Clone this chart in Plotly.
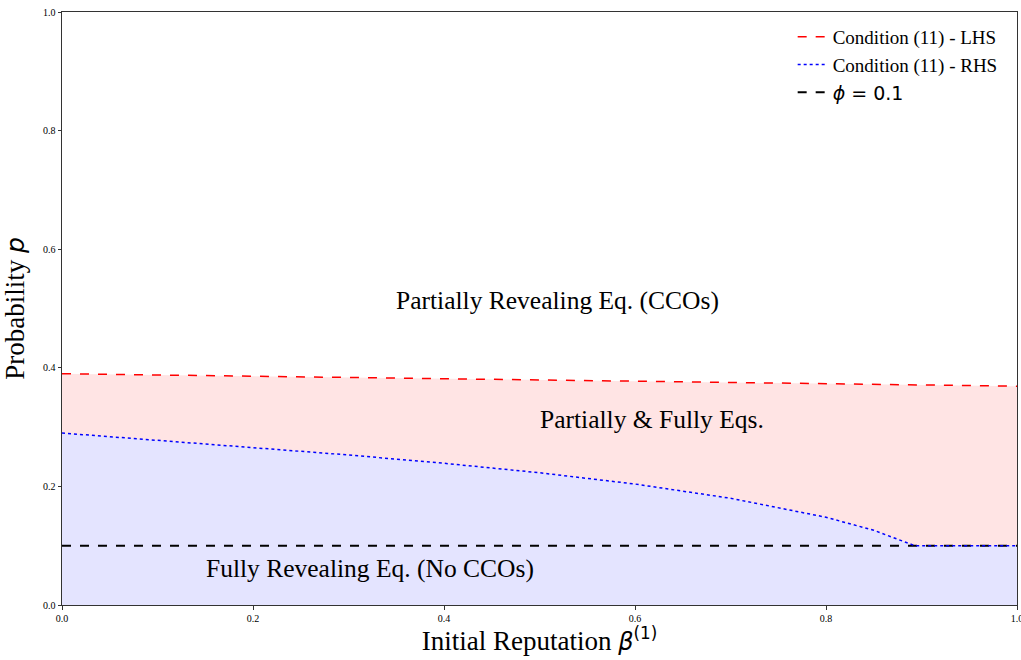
import plotly.graph_objects as go

# Initial reputation grid and the two sides of condition (11)
beta = [0.0, 0.1, 0.2, 0.3, 0.4, 0.5, 0.6, 0.7, 0.8, 0.85, 0.893, 0.95, 1.0]
lhs = [0.390, 0.388, 0.386, 0.384, 0.382, 0.380, 0.378, 0.376, 0.374, 0.373, 0.372, 0.371, 0.369]
rhs = [0.290, 0.278, 0.266, 0.253, 0.239, 0.223, 0.204, 0.180, 0.148, 0.126, 0.100, 0.100, 0.100]
phi = 0.1
ticks = [0.0, 0.2, 0.4, 0.6, 0.8, 1.0]
tick_text = ["0.0", "0.2", "0.4", "0.6", "0.8", "1.0"]

region_labels = ["Partially Revealing Eq. (CCOs)", "Partially & Fully Eqs.", "Fully Revealing Eq. (No CCOs)"]
region_x = [0.519, 0.618, 0.322]
region_y = [0.513, 0.312, 0.061]

SERIF = "Liberation Serif, Times New Roman, serif"
MATH = "DejaVu Sans"

fig = go.Figure()

# shaded regions
fig.add_trace(go.Scatter(x=beta, y=rhs, mode="lines", line=dict(width=0),
                         fill="tozeroy", fillcolor="rgba(0,0,255,0.105)",
                         showlegend=False, hoverinfo="skip"))
fig.add_trace(go.Scatter(x=beta, y=lhs, mode="lines", line=dict(width=0),
                         fill="tonexty", fillcolor="rgba(255,0,0,0.105)",
                         showlegend=False, hoverinfo="skip"))

# boundary curves
fig.add_trace(go.Scatter(x=beta, y=lhs, mode="lines", name="Condition (11) - LHS",
                         line=dict(color="red", width=1.5, dash="dash"), legendrank=1))
fig.add_trace(go.Scatter(x=[beta[0], beta[-1]], y=[phi, phi], mode="lines",
                         name=f"<span style='font-family:{MATH}'><i>ϕ</i> = 0.1</span>",
                         line=dict(color="black", width=2, dash="dash"), legendrank=3))
fig.add_trace(go.Scatter(x=beta, y=rhs, mode="lines", name="Condition (11) - RHS",
                         line=dict(color="blue", width=1.5, dash="dot"), legendrank=2))

for txt, xx, yy in zip(region_labels, region_x, region_y):
    fig.add_annotation(x=xx, y=yy, text=txt, showarrow=False,
                       font=dict(family=SERIF, size=25.5, color="black"))

axis_common = dict(range=[0, 1], showgrid=False, zeroline=False, showline=True,
                   linecolor="#333", linewidth=1, mirror=True, ticks="outside",
                   ticklen=3.5, tickcolor="#333", tickwidth=1,
                   tickfont=dict(family=SERIF, size=10, color="black"),
                   tickmode="array", tickvals=ticks, ticktext=tick_text,
                   ticklabeloverflow="allow", automargin=False)

fig.update_xaxes(**axis_common,
                 title=dict(text=f"Initial Reputation <span style='font-family:{MATH};font-size:24px'><i>β</i><sup>(1)</sup></span>",
                            font=dict(family=SERIF, size=27, color="black"), standoff=5))
fig.update_yaxes(**axis_common,
                 title=dict(text=f"Probability <span style='font-family:{MATH};font-size:25px'><i>p</i></span>",
                            font=dict(family=SERIF, size=27, color="black"), standoff=12))

fig.update_layout(
    width=1021, height=660,
    margin=dict(l=62, r=4, t=12, b=55),
    plot_bgcolor="white", paper_bgcolor="white",
    legend=dict(x=0.985, y=0.99, xanchor="right", yanchor="top",
                traceorder="normal",
                font=dict(family=SERIF, size=19, color="black"),
                bgcolor="rgba(255,255,255,0)", tracegroupgap=3),
)

fig.write_html("out.html")
